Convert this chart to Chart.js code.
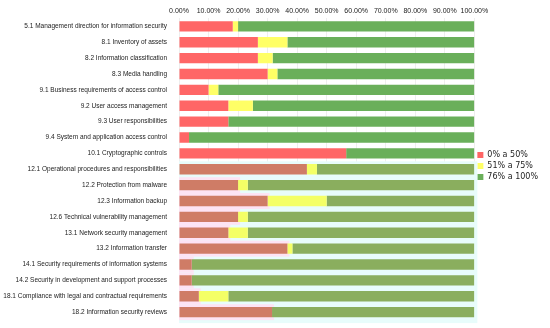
<!DOCTYPE html>
<html lang="en">
<head>
  <meta charset="UTF-8">
  <title>ISO 27002 controls</title>
  <script src="https://cdn.jsdelivr.net/npm/chart.js"></script>
  <style>
    body {
      background-color: #FFFFFF;
      margin: 0;
      padding: 0;
    }
    #wrap {
      width: 550px;
      height: 328px;
      position: relative;
    }
  </style>
</head>
<body>
  <div id="wrap">
    <canvas id="ctrlChart"></canvas>
  </div>

  <script>
    const controls = [
      '5.1 Management direction for information security',
      '8.1 Inventory of assets',
      '8.2 Information classification',
      '8.3 Media handling',
      '9.1 Business requirements of access control',
      '9.2 User access management',
      '9.3 User responsibilities',
      '9.4 System and application access control',
      '10.1 Cryptographic controls',
      '12.1 Operational procedures and responsibilities',
      '12.2 Protection from malware',
      '12.3 Information backup',
      '12.6 Technical vulnerability management',
      '13.1 Network security management',
      '13.2 Information transfer',
      '14.1 Security requirements of information systems',
      '14.2 Security in development and support processes',
      '18.1 Compliance with legal and contractual requirements',
      '18.2 Information security reviews'
    ];
    const seriesNames = ['0% a 50%', '51% a 75%', '76% a 100%'];
    const low  = [18.2, 26.7, 26.7, 30.0, 10.0, 16.7, 16.7, 3.4, 56.6, 43.3, 20.0, 30.0, 20.0, 16.7, 36.7, 4.3, 4.3, 6.7, 31.5];
    const mid  = [1.8, 10.0, 5.0, 3.3, 3.3, 8.3, 0, 0, 0, 3.4, 3.3, 20.0, 3.3, 6.6, 1.7, 0, 0, 10.0, 0];
    const high = [80.0, 63.3, 68.3, 66.7, 86.7, 75.0, 83.3, 96.6, 43.4, 53.3, 76.7, 50.0, 76.7, 76.7, 61.6, 95.7, 95.7, 83.3, 68.5];
    const xTicks = [0, 10, 20, 30, 40, 50, 60, 70, 80, 90, 100];

    // lower rows look washed out in the original image
    const fadeFrom = 9;
    const colors = ['#FF6666', '#FFFF66', '#6AAF5A'];
    const faded = ['#CF7C66', '#F4FF66', '#8AAE5E'];

    function pick(i) {
      return ctx => ctx.dataIndex >= fadeFrom ? faded[i] : colors[i];
    }

    const tint = {
      id: 'tint',
      beforeDatasetsDraw(chart) {
        const { ctx, chartArea, scales } = chart;
        const y = scales.y, x = scales.x;
        const step = y.getPixelForValue(1) - y.getPixelForValue(0);
        const top = y.getPixelForValue(fadeFrom) - step / 2;
        ctx.save();
        ctx.fillStyle = '#E8FCFB';
        ctx.fillRect(chartArea.left, top, chartArea.right - chartArea.left + 3, chartArea.bottom - top + 3);
        ctx.fillStyle = '#FDE3F4';
        for (let i = fadeFrom + 1; i < controls.length; i++) {
          const cy = y.getPixelForValue(i);
          ctx.fillRect(chartArea.left, cy - step / 2, x.getPixelForValue(low[i]) - chartArea.left + 2, step);
        }
        ctx.restore();
      }
    };

    Chart.defaults.font.family = "'Liberation Sans', Arial, sans-serif";
    Chart.defaults.color = '#222222';

    new Chart(document.getElementById('ctrlChart'), {
      type: 'bar',
      data: {
        labels: controls,
        datasets: [
          { label: seriesNames[0], data: low, backgroundColor: pick(0) },
          { label: seriesNames[1], data: mid, backgroundColor: pick(1) },
          { label: seriesNames[2], data: high, backgroundColor: pick(2) }
        ]
      },
      options: {
        indexAxis: 'y',
        responsive: true,
        maintainAspectRatio: false,
        animation: false,
        layout: { padding: { top: 4, right: 2, bottom: 0, left: 0 } },
        datasets: { bar: { barPercentage: 0.65, categoryPercentage: 1 } },
        plugins: {
          legend: {
            position: 'right',
            labels: {
              boxWidth: 6, boxHeight: 6, padding: 3,
              font: { size: 8, family: "'DejaVu Sans', sans-serif" },
              color: '#222222'
            }
          },
          tooltip: { enabled: false }
        },
        scales: {
          x: {
            position: 'top',
            stacked: true,
            min: 0,
            max: 100,
            afterBuildTicks: axis => { axis.ticks = xTicks.map(v => ({ value: v })); },
            ticks: {
              font: { size: 7 },
              padding: 3,
              autoSkip: false,
              maxRotation: 0,
              minRotation: 0,
              callback: v => v.toFixed(2) + '%'
            },
            grid: { color: '#EEEEEE', drawTicks: false },
            border: { display: false }
          },
          y: {
            stacked: true,
            afterFit: axis => { axis.width = 179; },
            ticks: { font: { size: 6.5 }, padding: 4, autoSkip: false },
            grid: { display: false },
            border: { display: false }
          }
        }
      },
      plugins: [tint]
    });
  </script>
</body>
</html>
